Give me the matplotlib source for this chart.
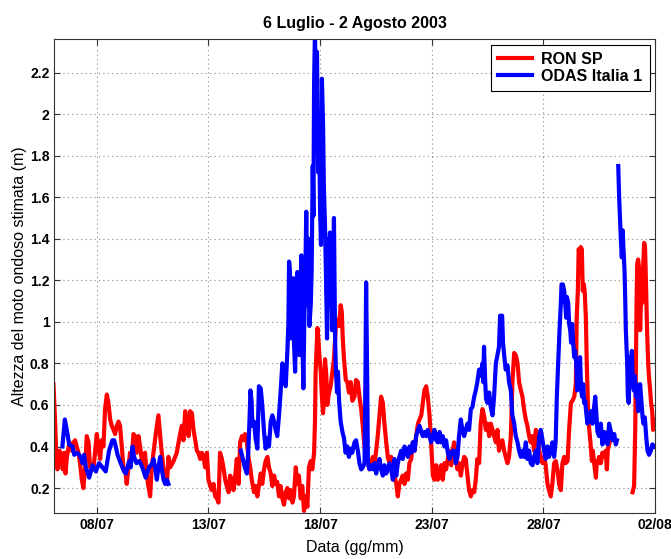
import numpy as np
import pandas as pd
import matplotlib
matplotlib.use("Agg")
import matplotlib.pyplot as plt
import matplotlib.dates as mdates
from matplotlib.ticker import FuncFormatter

plt.rcParams['font.family'] = ['Liberation Sans', 'DejaVu Sans']

# Tempi in giorni di luglio 2003 (32 = 1 agosto), altezze in metri
ron_giorni = [
    6.06, 6.13, 6.18, 6.24, 6.33, 6.39, 6.48, 6.54, 6.60, 6.66, 6.78, 6.88, 6.96, 7.03,
    7.10, 7.18, 7.25, 7.33, 7.40, 7.48, 7.55, 7.63, 7.70, 7.85, 8.00, 8.07, 8.15, 8.22,
    8.30, 8.37, 8.45, 8.52, 8.60, 8.67, 8.75, 8.82, 8.90, 8.97, 9.04, 9.12, 9.19, 9.27,
    9.34, 9.42, 9.49, 9.57, 9.64, 9.72, 9.79, 9.87, 9.94, 10.01, 10.09, 10.16, 10.24,
    10.31, 10.39, 10.46,
    10.54, 10.64, 10.76, 10.84, 10.91, 10.99, 11.06, 11.14, 11.21, 11.29, 11.44, 11.58,
    11.73, 11.81, 11.88, 11.96, 12.03, 12.11, 12.18, 12.26, 12.33, 12.41, 12.48, 12.55,
    12.63, 12.70, 12.78, 12.85, 12.93, 13.00, 13.08, 13.15, 13.23, 13.30, 13.38, 13.45,
    13.52, 13.60, 13.67, 13.75, 13.82, 13.90, 13.97, 14.05, 14.12, 14.20, 14.27, 14.35,
    14.42, 14.50, 14.57, 14.64, 14.72, 14.79, 14.87, 14.94, 15.02,
    15.04, 15.11, 15.19, 15.26, 15.34, 15.41, 15.49, 15.56, 15.64, 15.71, 15.79, 15.86,
    15.94, 16.01, 16.08, 16.16, 16.23, 16.31, 16.38, 16.46, 16.53, 16.61, 16.68, 16.76,
    16.83, 16.91, 16.98, 17.05, 17.13, 17.20, 17.28, 17.35, 17.43, 17.50, 17.58, 17.65,
    17.73, 17.77, 17.80, 17.88, 17.92, 17.98, 18.03, 18.07, 18.13, 18.17, 18.22, 18.28,
    18.32, 18.40, 18.47, 18.55, 18.62, 18.70, 18.77, 18.85, 18.92, 18.97, 19.01, 19.07,
    19.15, 19.22, 19.29, 19.37, 19.44,
    19.54, 19.61, 19.69, 19.76, 19.84, 19.91, 19.99, 20.06, 20.14, 20.21, 20.29, 20.36,
    20.44, 20.51, 20.58, 20.66, 20.73, 20.81, 20.88, 20.96, 21.03, 21.11, 21.18, 21.26,
    21.33, 21.41, 21.48, 21.55, 21.63, 21.70, 21.78, 21.85, 21.93, 22.00, 22.08, 22.15,
    22.23, 22.30, 22.38, 22.45, 22.53, 22.60, 22.67, 22.75, 22.82, 22.90, 22.97, 23.05,
    23.12, 23.20, 23.27, 23.35, 23.42, 23.49, 23.57, 23.64, 23.72, 23.79, 23.87, 23.94,
    24.00, 24.07, 24.15, 24.22, 24.30, 24.37, 24.45, 24.52, 24.60, 24.67, 24.75, 24.82,
    24.90, 24.97, 25.04, 25.12, 25.19, 25.27, 25.34, 25.42, 25.49, 25.57, 25.64, 25.72,
    25.79, 25.87, 25.94, 26.01, 26.09, 26.16, 26.24, 26.31, 26.39, 26.46, 26.54, 26.61,
    26.69, 26.76, 26.84, 26.91, 26.99, 27.06, 27.13, 27.21, 27.28, 27.36, 27.43, 27.51,
    27.58, 27.66, 27.73, 27.81, 27.88, 27.96, 28.03, 28.10, 28.18, 28.25, 28.33, 28.40,
    28.48, 28.55, 28.63, 28.70, 28.78, 28.85, 28.93, 29.00, 29.08, 29.15, 29.23, 29.30,
    29.38, 29.45, 29.49, 29.54, 29.58, 29.63, 29.67, 29.72, 29.76, 29.81, 29.85, 29.90,
    29.94, 29.99, 30.03, 30.08, 30.12, 30.17, 30.21, 30.27, 30.35, 30.39, 30.44, 30.49,
    30.57, 30.64, 30.72, 30.79, 30.84, 30.88, 30.94, 30.99,
    31.50,
    31.99, 32.06, 32.11, 32.14, 32.17, 32.20, 32.24, 32.29, 32.33, 32.38, 32.42, 32.47,
    32.51, 32.55, 32.60, 32.64, 32.69, 32.73, 32.78, 32.82, 32.87, 32.91, 32.96,
]
ron_hs = [
    0.70, 0.53, 0.37, 0.29, 0.38, 0.34, 0.29, 0.37, 0.27, 0.35, 0.42, 0.38, 0.42, 0.43,
    0.40, 0.37, 0.32, 0.24, 0.20, 0.30, 0.45, 0.42, 0.30, 0.29, 0.46, 0.40, 0.34, 0.43,
    0.40, 0.58, 0.65, 0.61, 0.53, 0.50, 0.48, 0.46, 0.50, 0.52, 0.50, 0.40, 0.30, 0.29,
    0.22, 0.30, 0.37, 0.34, 0.46, 0.45, 0.37, 0.45, 0.40, 0.34, 0.30, 0.37, 0.26,
    0.21, 0.16, 0.30,
    0.37, 0.46, 0.55, 0.45, 0.37, 0.29, 0.26, 0.22, 0.35, 0.30, 0.33, 0.37,
    0.46, 0.50, 0.43, 0.57, 0.50, 0.45, 0.57, 0.56, 0.48, 0.43, 0.38, 0.37,
    0.34, 0.37, 0.35, 0.30, 0.37, 0.24, 0.21, 0.19, 0.22, 0.16, 0.15, 0.13,
    0.37, 0.34, 0.30, 0.24, 0.21, 0.18, 0.26, 0.24, 0.19, 0.26, 0.34, 0.22,
    0.42, 0.45, 0.43, 0.46, 0.42, 0.35, 0.30, 0.24, 0.19,
    0.18, 0.21, 0.16, 0.21, 0.27, 0.22, 0.29, 0.33, 0.35, 0.30, 0.27, 0.21,
    0.26, 0.22, 0.23, 0.16, 0.21, 0.15, 0.12, 0.18, 0.20, 0.15, 0.19, 0.13,
    0.16, 0.30, 0.22, 0.26, 0.15, 0.21, 0.09, 0.16, 0.11, 0.30, 0.33, 0.29,
    0.37, 0.52, 0.76, 0.97, 0.92, 0.82, 0.76, 0.66, 0.56, 0.62, 0.82, 0.74,
    0.60, 0.66, 0.69, 0.76, 0.82, 0.97, 1.01, 0.98, 1.08, 1.05, 0.93, 0.82,
    0.72, 0.71, 0.66, 0.71, 0.62,
    0.64, 0.72, 0.71, 0.64, 0.58, 0.50, 0.40, 0.35, 0.32, 0.29, 0.32, 0.35,
    0.32, 0.38, 0.45, 0.55, 0.64, 0.61, 0.51, 0.42, 0.35, 0.32, 0.35, 0.31,
    0.26, 0.22, 0.16, 0.22, 0.24, 0.26, 0.22, 0.27, 0.24, 0.32, 0.34, 0.42,
    0.38, 0.45, 0.51, 0.53, 0.55, 0.61, 0.67, 0.69, 0.64, 0.55, 0.42, 0.26,
    0.24, 0.31, 0.24, 0.26, 0.31, 0.24, 0.32, 0.29, 0.34, 0.38, 0.31, 0.38,
    0.42, 0.35, 0.29, 0.32, 0.26, 0.31, 0.35, 0.34, 0.26, 0.19, 0.16, 0.19,
    0.18, 0.24, 0.34, 0.32, 0.51, 0.58, 0.55, 0.48, 0.51, 0.45, 0.51, 0.48,
    0.45, 0.42, 0.48, 0.38, 0.42, 0.43, 0.38, 0.35, 0.32, 0.35, 0.45, 0.71,
    0.85, 0.84, 0.80, 0.71, 0.67, 0.64, 0.58, 0.53, 0.50, 0.45, 0.42, 0.45,
    0.38, 0.48, 0.45, 0.38, 0.35, 0.32, 0.35, 0.31, 0.22, 0.19, 0.16, 0.22,
    0.32, 0.33, 0.29, 0.22, 0.19, 0.32, 0.35, 0.32, 0.33, 0.48, 0.61, 0.62,
    0.64, 0.70, 1.02, 1.15, 1.35, 1.31, 1.36, 1.35, 1.15, 1.18, 1.14, 1.02,
    0.80, 0.61, 0.51, 0.45, 0.40, 0.33, 0.38, 0.32, 0.25, 0.33, 0.32, 0.35,
    0.32, 0.37, 0.35, 0.38, 0.29, 0.38, 0.41, 0.43,
    np.nan,
    0.18, 0.21, 0.48, 0.80, 1.09, 1.28, 1.30, 1.25, 0.96, 1.15, 1.09, 1.28,
    1.38, 1.36, 1.15, 0.96, 0.80, 0.73, 0.67, 0.61, 0.57, 0.48, 0.53,
]

odas_giorni = [
    6.46, 6.57, 6.69, 6.76, 6.91, 6.99, 7.13, 7.28, 7.36, 7.43, 7.51, 7.66, 7.81, 7.96,
    8.10, 8.25, 8.40, 8.55, 8.70, 8.78, 8.85, 8.93, 9.07, 9.22, 9.30, 9.45, 9.52, 9.60,
    9.67, 9.78, 9.90, 10.04, 10.19, 10.34, 10.49, 10.54, 10.61, 10.69, 10.76, 10.84,
    10.91, 10.99, 11.06, 11.14, 11.21,
    12.80,
    14.45, 14.54, 14.63, 14.72, 14.78, 14.84, 14.88, 14.93, 14.97,
    15.04, 15.11, 15.19, 15.26, 15.34, 15.41, 15.49, 15.56, 15.64, 15.71, 15.79, 15.86,
    15.94, 16.01, 16.08, 16.16, 16.23, 16.31, 16.38, 16.46, 16.53, 16.58, 16.61, 16.65,
    16.68, 16.73, 16.77, 16.80, 16.83, 16.88, 16.92, 16.98, 17.03, 17.07, 17.11, 17.16,
    17.20, 17.25, 17.29, 17.34, 17.38, 17.43, 17.47, 17.52, 17.58, 17.62, 17.67, 17.70,
    17.73, 17.77, 17.82, 17.86, 17.91, 17.95, 18.00, 18.04, 18.08, 18.13, 18.17, 18.22,
    18.26, 18.31, 18.35, 18.40, 18.44, 18.49, 18.53, 18.58, 18.62, 18.67, 18.71, 18.76,
    18.80, 18.85, 18.92, 19.00, 19.07, 19.14, 19.22, 19.29, 19.37, 19.44,
    19.54, 19.61, 19.69, 19.76, 19.84, 19.91, 19.99, 20.03, 20.06, 20.11, 20.14, 20.21,
    20.29, 20.36, 20.44, 20.51, 20.58, 20.66, 20.73, 20.81, 20.88, 20.96, 21.03, 21.11,
    21.18, 21.26, 21.33, 21.41, 21.48, 21.55, 21.63, 21.70, 21.78, 21.85, 21.93, 22.00,
    22.08, 22.15, 22.23, 22.30, 22.38, 22.45, 22.53, 22.60, 22.67, 22.75, 22.82, 22.90,
    22.97, 23.05, 23.12, 23.20, 23.27, 23.35, 23.42, 23.49, 23.57, 23.64, 23.72, 23.79,
    23.87, 23.94,
    24.00, 24.07, 24.15, 24.22, 24.30, 24.37, 24.45, 24.52, 24.60, 24.67, 24.75, 24.82,
    24.90, 24.97, 25.04, 25.12, 25.19, 25.27, 25.31, 25.34, 25.39, 25.43, 25.49, 25.57,
    25.64, 25.72, 25.79, 25.87, 25.94, 26.01, 26.06, 26.10, 26.15, 26.19, 26.24, 26.31,
    26.39, 26.46, 26.54, 26.61, 26.69, 26.76, 26.84, 26.91, 26.99, 27.06, 27.13, 27.21,
    27.28, 27.36, 27.43, 27.51, 27.58, 27.66, 27.73, 27.81, 27.88, 27.96, 28.03, 28.10,
    28.18, 28.25, 28.33, 28.40,
    28.48, 28.55, 28.60, 28.66, 28.72, 28.78, 28.81, 28.87, 28.93, 28.97, 29.02, 29.05,
    29.11, 29.15, 29.20, 29.24, 29.29, 29.33, 29.38, 29.42, 29.47, 29.51, 29.55, 29.60,
    29.64, 29.69, 29.73, 29.78, 29.82, 29.87, 29.91, 29.97, 30.05, 30.12, 30.20, 30.27,
    30.32, 30.36, 30.42, 30.49, 30.57, 30.64, 30.72, 30.79, 30.87, 30.94, 31.02, 31.09,
    31.17, 31.24, 31.29,
    31.32,
    31.35, 31.39, 31.44, 31.47, 31.51, 31.55, 31.58, 31.63, 31.66, 31.69, 31.72, 31.75,
    31.78, 31.82, 31.87, 31.91, 31.96, 32.00, 32.05, 32.09, 32.14, 32.18, 32.24, 32.29,
    32.33, 32.39, 32.44, 32.48, 32.54, 32.60, 32.66, 32.73, 32.81, 32.88, 32.96,
]
odas_hs = [
    0.40, 0.53, 0.46, 0.41, 0.40, 0.36, 0.37, 0.35, 0.32, 0.36, 0.30, 0.25, 0.31, 0.28,
    0.32, 0.30, 0.28, 0.38, 0.43, 0.43, 0.40, 0.36, 0.32, 0.28, 0.27, 0.33, 0.30, 0.40,
    0.35, 0.32, 0.33, 0.30, 0.25, 0.30, 0.32, 0.34, 0.30, 0.24, 0.30, 0.35,
    0.29, 0.24, 0.22, 0.24, 0.22,
    np.nan,
    0.38, 0.34, 0.30, 0.27, 0.37, 0.53, 0.67, 0.62, 0.50,
    0.52, 0.44, 0.39, 0.69, 0.68, 0.60, 0.47, 0.39, 0.44, 0.40, 0.52, 0.55,
    0.52, 0.48, 0.45, 0.55, 0.66, 0.80, 0.76, 0.69, 0.85, 0.99, 1.29, 1.24,
    0.92, 0.96, 1.11, 1.21, 0.90, 0.76, 0.95, 1.24, 1.08, 0.84, 1.11, 1.32,
    0.96, 0.68, 0.99, 1.24, 1.53, 1.08, 1.40, 0.98, 1.08, 1.24, 1.75, 1.51,
    2.15, 2.40, 1.96, 2.30, 1.72, 2.00, 1.53, 1.37, 2.17, 1.96, 1.64, 1.46,
    1.24, 0.92, 1.40, 1.08, 1.43, 1.24, 0.96, 1.24, 1.50, 0.92, 0.76, 0.66,
    0.76, 0.62, 0.52, 0.47, 0.44, 0.37, 0.40, 0.35, 0.39, 0.37,
    0.42, 0.43, 0.38, 0.32, 0.29, 0.30, 0.32, 0.74, 1.19, 0.71, 0.32, 0.29,
    0.31, 0.29, 0.32, 0.27, 0.31, 0.34, 0.29, 0.26, 0.31, 0.27, 0.29, 0.32,
    0.29, 0.24, 0.34, 0.26, 0.32, 0.35, 0.38, 0.34, 0.40, 0.38, 0.35, 0.40,
    0.37, 0.42, 0.38, 0.45, 0.48, 0.50, 0.47, 0.45, 0.47, 0.45, 0.48, 0.45,
    0.42, 0.45, 0.48, 0.43, 0.42, 0.47, 0.42, 0.45, 0.40, 0.43, 0.37, 0.34,
    0.37, 0.38,
    0.38, 0.32, 0.35, 0.45, 0.53, 0.48, 0.45, 0.48, 0.51, 0.48, 0.58, 0.59,
    0.64, 0.67, 0.71, 0.77, 0.74, 0.80, 0.71, 0.88, 0.72, 0.63, 0.61, 0.66,
    0.59, 0.55, 0.64, 0.80, 0.84, 0.88, 1.03, 1.00, 1.03, 0.90, 0.84, 0.77,
    0.79, 0.71, 0.67, 0.55, 0.51, 0.45, 0.42, 0.38, 0.35, 0.38, 0.35, 0.42,
    0.34, 0.38, 0.32, 0.31, 0.35, 0.38, 0.32, 0.45, 0.48, 0.43, 0.38, 0.34,
    0.40, 0.35, 0.38, 0.42,
    0.35, 0.43, 0.64, 0.80, 0.96, 1.09, 1.18, 1.18, 1.15, 1.09, 1.02, 1.12,
    1.09, 0.99, 0.96, 0.90, 0.99, 0.90, 0.83, 0.86, 0.80, 0.67, 0.77, 0.70,
    0.83, 0.67, 0.64, 0.70, 0.61, 0.62, 0.57, 0.51, 0.54, 0.57, 0.51, 0.59,
    0.64, 0.57, 0.47, 0.45, 0.51, 0.41, 0.47, 0.46, 0.41, 0.51, 0.47, 0.43,
    0.46, 0.41, 0.43,
    np.nan,
    1.75, 1.60, 1.47, 1.39, 1.31, 1.44, 1.36, 1.25, 1.12, 0.96, 0.88, 0.80,
    0.64, 0.61, 0.83, 0.77, 0.86, 0.70, 0.67, 0.74, 0.64, 0.70, 0.57, 0.67,
    0.70, 0.61, 0.54, 0.51, 0.54, 0.45, 0.38, 0.36, 0.38, 0.41, 0.40,
]

x_ticks = ['2003-07-08', '2003-07-13', '2003-07-18', '2003-07-23', '2003-07-28', '2003-08-02']
y_ticks = np.arange(0.2, 2.21, 0.2)


def a_data(giorni):
    return pd.Timestamp('2003-06-30') + pd.to_timedelta(np.asarray(giorni), unit='D')


fig = plt.figure(figsize=(6.71, 5.59), dpi=100)
ax = fig.add_axes([0.081, 0.0823, 0.8953, 0.8474])

ax.plot(a_data(ron_giorni), ron_hs, color='#ff0000', lw=3.0, label='RON SP')
ax.plot(a_data(odas_giorni), odas_hs, color='#0000ff', lw=3.0, label='ODAS Italia 1')

ax.set_xlim(a_data([6.10])[0], a_data([33.0])[0])
ax.set_ylim(0.08, 2.36)

ax.set_xticks(pd.to_datetime(x_ticks))
ax.xaxis.set_major_formatter(mdates.DateFormatter('%d/%m'))
ax.set_yticks(y_ticks)
ax.yaxis.set_major_formatter(FuncFormatter(lambda v, p: f'{v:g}'))

ax.tick_params(direction='in', length=4, width=0.8, top=True, right=True,
               labelsize=10, color='#333333')
for lab in ax.get_xticklabels() + ax.get_yticklabels():
    lab.set_fontweight('bold')

ax.grid(True, color='#888888', linestyle=(0, (1, 3)), linewidth=0.8)
for s in ax.spines.values():
    s.set_color('#333333')
    s.set_linewidth(0.8)

ax.set_title('6 Luglio - 2 Agosto 2003', fontsize=11.5, fontweight='bold', pad=8)
ax.set_xlabel('Data (gg/mm)', fontsize=11.5, labelpad=6)
ax.set_ylabel('Altezza del moto ondoso stimata (m)', fontsize=11.5, labelpad=2)

leg = ax.legend(loc='upper right', prop={'size': 11.5, 'weight': 'bold'},
                fancybox=False, framealpha=1, edgecolor='black',
                handlelength=2.1, handletextpad=0.6, labelspacing=0.1,
                borderpad=0.45, borderaxespad=0.35)
leg.get_frame().set_linewidth(0.8)

fig.savefig('out.png', dpi=100)
